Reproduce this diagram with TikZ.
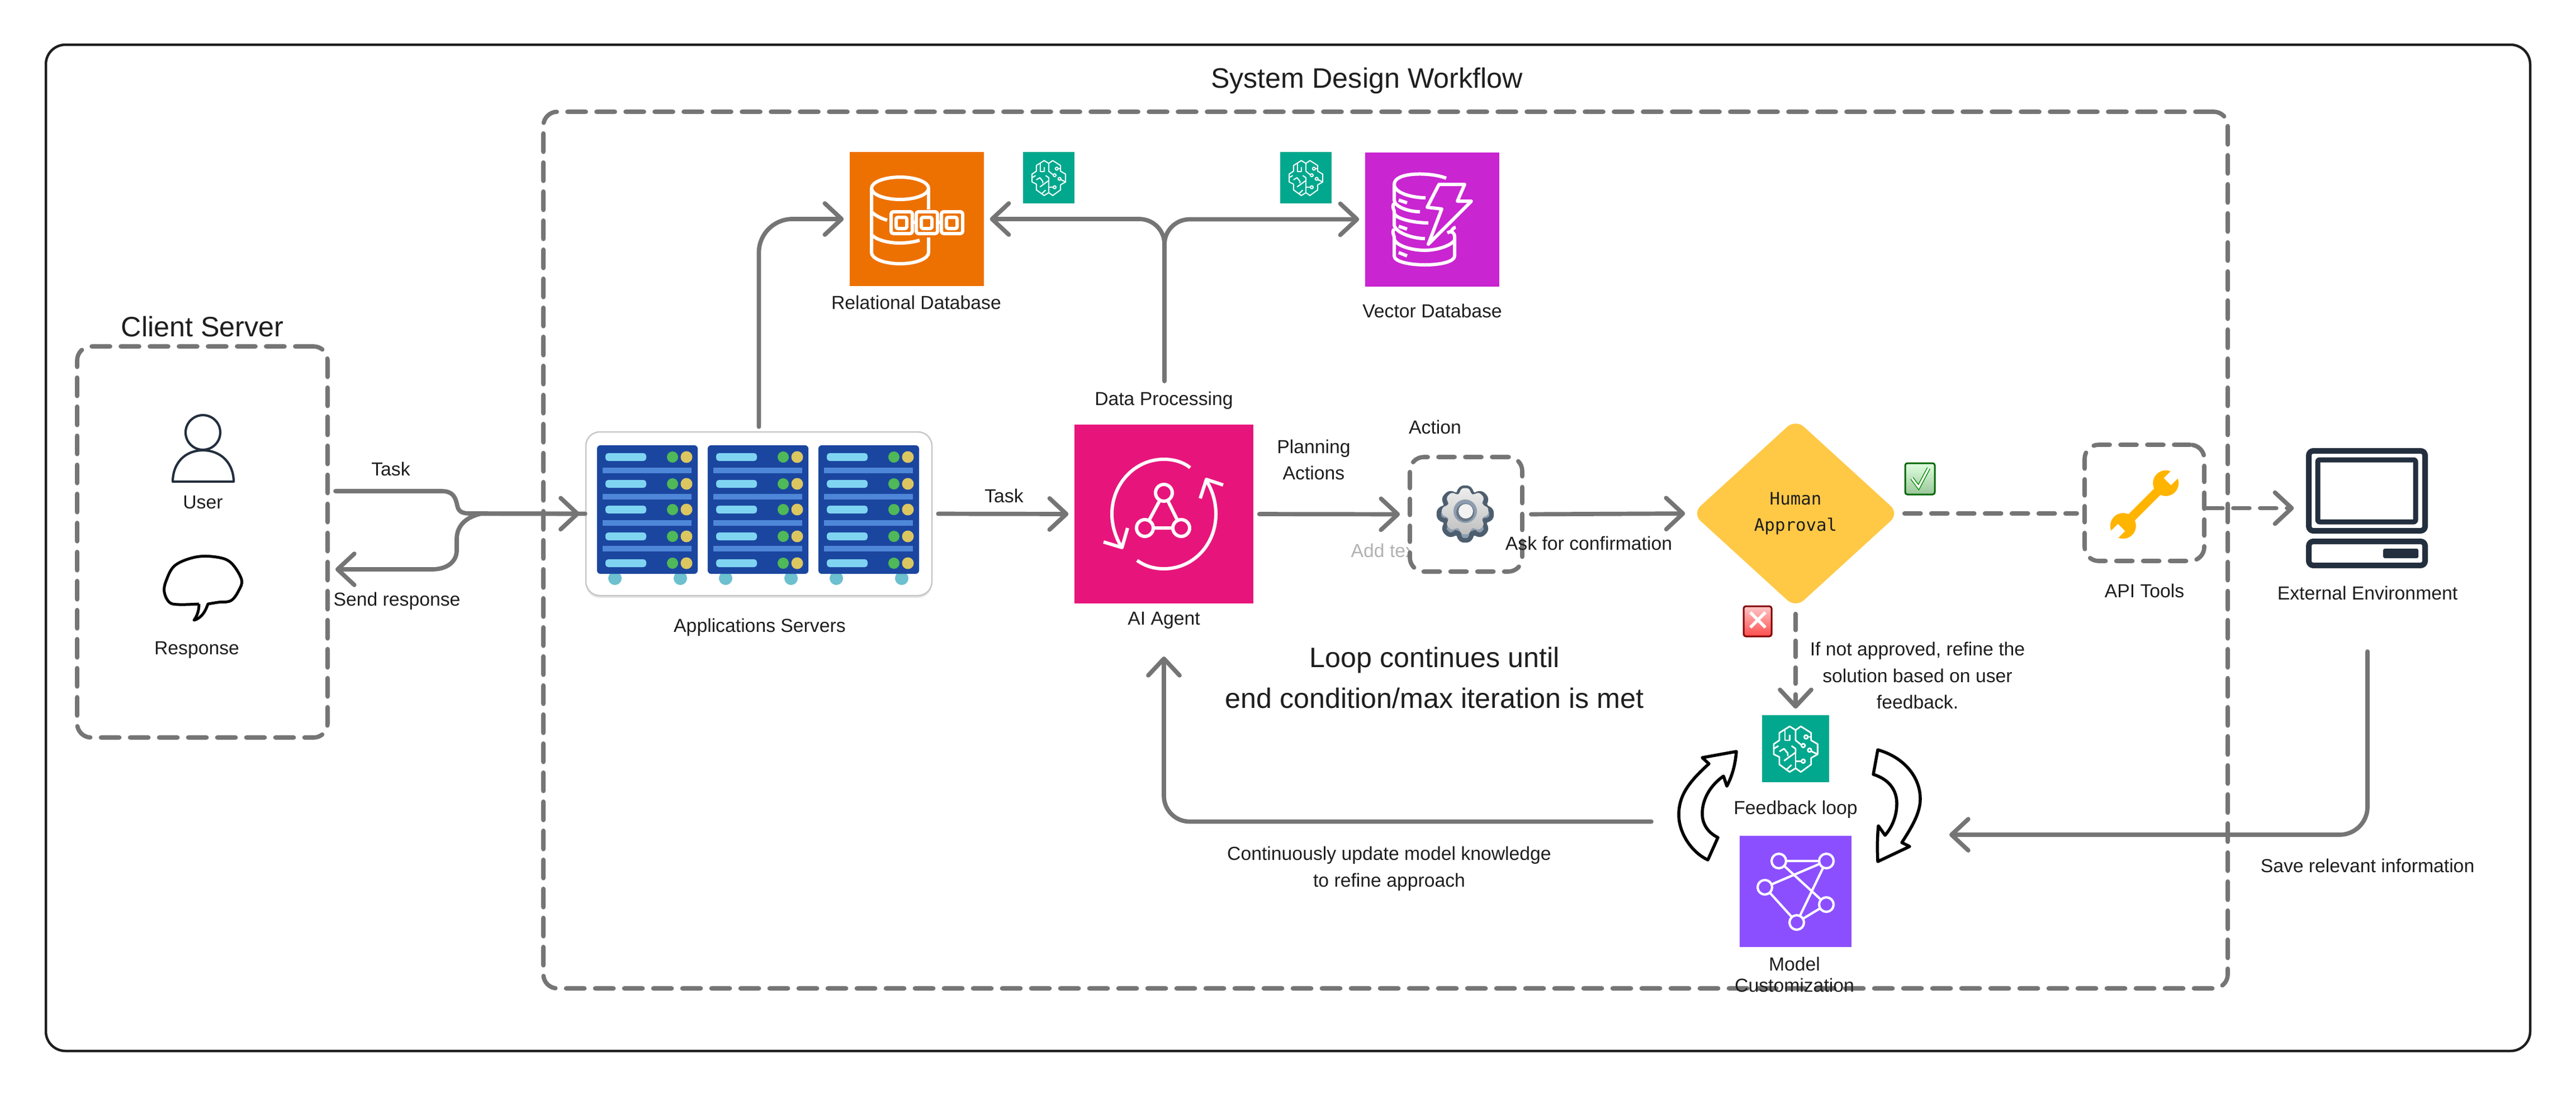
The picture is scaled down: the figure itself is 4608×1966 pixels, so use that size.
\documentclass[tikz,border=0pt]{standalone}
\usepackage{fontspec}
\setmainfont{Liberation Sans}
\newfontfamily\approvalfont{DejaVu Sans Mono}
\usetikzlibrary{arrows.meta,shapes.geometric}

\definecolor{inkdark}{HTML}{1E1E1E}
\definecolor{linegray}{HTML}{757575}
\definecolor{navyicon}{HTML}{232F3E}
\definecolor{awsorange}{HTML}{ED7100}
\definecolor{awsmagenta}{HTML}{C925D1}
\definecolor{awspink}{HTML}{E7157B}
\definecolor{awsteal}{HTML}{01A88D}
\definecolor{awsviolet}{HTML}{8C4FFF}
\definecolor{approvalgold}{HTML}{FFC845}
\definecolor{wrenchgold}{HTML}{FFB400}
\definecolor{rackblue}{HTML}{1B469F}
\definecolor{rackstripe}{HTML}{4F87D8}
\definecolor{rackpill}{HTML}{7FD4F2}
\definecolor{rackgreen}{HTML}{4FB858}
\definecolor{rackyellow}{HTML}{DCC660}
\definecolor{rackfoot}{HTML}{6CC0CF}
\definecolor{gearedge}{HTML}{4D5E6E}
\definecolor{gearshade}{HTML}{8D9DAF}

\newcommand{\gearoutline}{(-17:37) \foreach \a in {0,45,...,315}{ -- ({\a-11}:48) -- ({\a+11}:48) -- ({\a+17}:37) -- ({\a+28}:37)} -- cycle}

\tikzset{
  pics/brainicon/.style={code={
    \begin{scope}[scale=1/3,shift={(-217,-210)},draw=white,line join=round]
      \draw (217,110) -- (185,90) -- (130,125) -- (130,165) -- (100,185) -- (100,240) -- (130,255) -- (130,295) -- (185,335) -- (217,315);
      \draw (217,110) -- (245,90) -- (300,125) -- (300,165) -- (335,185) -- (335,240) -- (300,260) -- (300,295) -- (245,335) -- (217,315);
      \draw (217,110) -- (217,165) -- (248,190);
      \draw (217,230) -- (217,315);
      \draw (217,277) -- (248,277);
      \draw (283,147) -- (300,147);
      \draw (302,224) -- (335,240);
      \draw (160,110) -- (160,165) -- (185,165) -- (185,135);
      \draw (100,210) -- (125,195);
      \draw (130,225) -- (155,210) -- (175,235) -- (175,250);
      \draw (195,195) -- (217,210) -- (217,230) -- (155,275);
      \draw (165,325) -- (195,297);
      \foreach \cx/\cy in {258/193,258/277,273/147,292/218}
        \draw (\cx,\cy) circle[radius=10];
    \end{scope}
  }}
}

\begin{document}
\begin{tikzpicture}[x=0.1mm,y=-0.1mm,>={Straight Barb[length=3mm,width=5.6mm,round]}]
    \tikzstyle{annot}=[font=\fontsize{9.6}{13.6}\selectfont,text=inkdark,align=center,inner sep=0pt]
    \tikzstyle{headline}=[annot,font=\fontsize{14.3}{21}\selectfont]
    \tikzstyle{flow}=[draw=linegray,line width=.77mm,line cap=round,->]
    \tikzstyle{dashflow}=[flow,dash pattern=on 2.9mm off 1.9mm]
    \tikzstyle{dashbox}=[rectangle,draw=linegray,line width=.77mm,line cap=round,rounded corners=2.5mm,dash pattern=on 3.3mm off 1.9mm,inner sep=0pt]
    \tikzstyle{toolbox}=[dashbox,fill=white,dash pattern=on 2.9mm off 1.9mm]
    \tikzstyle{awsbox}=[rectangle,inner sep=0pt]
    \tikzstyle{iconline}=[draw=white,line width=.6mm,line join=round]
    \tikzstyle{darkicon}=[draw=navyicon,line join=round]
    \tikzstyle{loopfill}=[draw=black,fill=white,line width=.55mm,line join=round]
    \useasboundingbox (0,0) rectangle (4608,1966);

    % frames
    \node[rectangle,draw=inkdark,line width=.45mm,rounded corners=3.5mm,minimum width=444.4mm,minimum height=180.1mm,inner sep=0pt] (outerframe) at (2304,980.5) {};
    \node[dashbox,minimum width=301.3mm,minimum height=156.9mm] (workflowbox) at (2478.5,984.5) {};
    \node[dashbox,minimum width=44.8mm,minimum height=70mm] (clientbox) at (362,970) {};
    \node[headline] (workflowtitle) at (2445,144) {System Design Workflow};
    \node[headline] (clienttitle) at (362,585) {Client Server};

    % client icons
    \draw[darkicon,line width=.42mm] (363,774) circle[radius=31];
    \draw[darkicon,line width=.42mm] (309,862) .. controls (309,830) and (330,806) .. (363,806) .. controls (396,806) and (418,830) .. (418,862) -- cycle;
    \draw[black,line width=.5mm,line join=round] plot[smooth,tension=.6] coordinates {(356,1081) (320,1082) (303,1078) (294,1060) (297,1040) (313,1012) (350,997) (387,997) (413,1007) (432,1037) (427,1057) (413,1075) (390,1078) (372,1081)} .. controls (368,1092) and (362,1106) .. (347,1110) .. controls (353,1102) and (356,1092) .. (356,1081);
    \node[annot] (userlabel) at (363,899) {User};
    \node[annot] (responselabel) at (352,1163) {Response};

    % application servers
    \fill[black!10,rounded corners=2.5mm] (1048,776) rectangle (1667,1070);
    \node[rectangle,draw=black!22,fill=white,line width=.25mm,rounded corners=2.5mm,minimum width=61.9mm,minimum height=29.3mm,inner sep=0pt] (appservers) at (1357.5,919.5) {};
    \foreach \rx in {1068,1266,1464}{
        \foreach \fx in {32,149}
            \fill[rackfoot] (\rx+\fx,1035) circle[radius=12];
        \fill[rackblue,rounded corners=.6mm] (\rx,797) rectangle (\rx+180,1027);
        \foreach \sy in {842,889,936,982}
            \fill[rackstripe] (\rx+10,\sy-5) rectangle (\rx+169,\sy+5);
        \foreach \uy in {818,866,912,960,1008}{
            \fill[rackpill,rounded corners=.5mm] (\rx+15,\uy-7) rectangle (\rx+88,\uy+7);
            \fill[rackgreen] (\rx+135,\uy) circle[radius=10];
            \fill[rackyellow] (\rx+160,\uy) circle[radius=10.5];
        }
    }
    \node[annot] (serverslabel) at (1359,1123) {Applications Servers};

    % databases
    \node[awsbox,fill=awsorange,minimum size=24mm] (reldb) at (1640,392) {};
    \draw[iconline] (1610,337) ellipse[x radius=51,y radius=20];
    \draw[iconline] (1559,337) -- (1559,452) .. controls (1559,463) and (1582,472) .. (1610,472) .. controls (1638,472) and (1661,463) .. (1661,452) -- (1661,425);
    \draw[iconline] (1661,337) -- (1661,375);
    \draw[iconline] (1559,379) .. controls (1566,386) and (1576,391) .. (1587,394);
    \draw[iconline] (1559,420) .. controls (1568,430) and (1590,435) .. (1610,435) .. controls (1622,435) and (1635,433) .. (1645,430);
    \foreach \cx in {1594,1639,1684}{
        \draw[iconline,rounded corners=.4mm] (\cx,379) rectangle (\cx+38,418);
        \draw[iconline,rounded corners=.3mm] (\cx+9,389) rectangle (\cx+28,409);
    }
    \draw[iconline] (1632,398) -- (1639,398) (1677,398) -- (1684,398);
    \node[annot] (reldblabel) at (1639,541) {Relational Database};

    \node[awsbox,fill=awsmagenta,minimum size=24mm] (vecdb) at (2562,392.5) {};
    \draw[iconline] (2587,319) .. controls (2560,308) and (2494,307) .. (2494,330) .. controls (2494,345) and (2525,354) .. (2550,354);
    \draw[iconline] (2494,330) -- (2494,358) .. controls (2494,370) and (2520,379) .. (2540,379);
    \draw[iconline] (2494,364) .. controls (2490,368) and (2492,372) .. (2494,378) -- (2494,402) .. controls (2494,415) and (2525,427) .. (2549,427);
    \draw[iconline] (2494,382) .. controls (2498,392) and (2530,399) .. (2555,399);
    \draw[iconline] (2494,410) .. controls (2490,414) and (2492,418) .. (2494,424) -- (2494,458) .. controls (2494,468) and (2520,474) .. (2549,474) .. controls (2578,474) and (2602,468) .. (2602,458) -- (2602,424) .. controls (2602,416) and (2596,412) .. (2589,417);
    \draw[iconline] (2494,428) .. controls (2498,440) and (2525,448) .. (2549,448) .. controls (2570,448) and (2595,440) .. (2602,430);
    \draw[iconline] (2596,414) .. controls (2598,410) and (2601,407) .. (2604,407);
    \draw[iconline] (2502,358) -- (2517,363) (2502,405) -- (2517,410) (2502,452) -- (2517,458);
    \draw[iconline] (2574,330) -- (2620,330) -- (2607,360) -- (2632,360) -- (2555,437) -- (2579,374) -- (2553,371) -- cycle;
    \node[annot] (vecdblabel) at (2562,556) {Vector Database};

    \node[awsbox,fill=awsteal,minimum size=9.2mm] (brainrel) at (1876,318) {};
    \pic[scale=.767,line width=.2mm] at (brainrel) {brainicon};
    \node[awsbox,fill=awsteal,minimum size=9.2mm] (brainvec) at (2336,318) {};
    \pic[scale=.767,line width=.2mm] at (brainvec) {brainicon};

    % agent
    \node[awsbox,fill=awspink,minimum size=32mm] (agent) at (2082,920) {};
    \draw[iconline,line cap=butt] (2129,837) .. controls (2115,826) and (2098,822) .. (2082,822) .. controls (2030,822) and (1989,866) .. (1989,920) .. controls (1989,940) and (1995,960) .. (2006,979);
    \draw[iconline] (1974,970) -- (2007,980) -- (2017,945);
    \draw[iconline,line cap=butt] (2034,1003) .. controls (2048,1013) and (2064,1018) .. (2082,1018) .. controls (2134,1018) and (2175,975) .. (2175,920) .. controls (2175,900) and (2170,880) .. (2158,860);
    \draw[iconline] (2147,892) -- (2158,858) -- (2188,868);
    \draw[iconline] (2082,882) -- (2048,945) -- (2113,945) -- cycle;
    \foreach \cx/\cy in {2082/882,2048/945,2113/945}
        \draw[iconline,fill=awspink] (\cx,\cy) circle[radius=15];
    \node[annot] (agentlabel) at (2082,1110) {AI Agent};
    \node[annot] (datalabel) at (2082,717) {Data Processing};

    % action and approval
    \node[annot,anchor=west,text=black!30] (addtext) at (2416,985) {Add text};
    \node[toolbox,minimum width=20.1mm,minimum height=20.5mm] (actionbox) at (2622.5,920.5) {};
    \begin{scope}[shift={(2621,920)}]
        \draw[draw=gearedge,fill=gearshade,line width=.8mm,line join=round,rounded corners=.7mm] \gearoutline;
        \begin{scope}[yshift=.5mm,scale=.88]
            \shade[top color=black!7,bottom color=black!25,rounded corners=.6mm] \gearoutline;
        \end{scope}
        \fill[gearshade] (0,-5) circle[radius=21];
        \fill[gearedge!85] (0,-3) circle[radius=16];
        \fill[black!5] (1,-5) circle[radius=13];
    \end{scope}
    \node[annot] (actionlabel) at (2567,764) {Action};
    \node[annot] (planlabel) at (2350,823) {Planning\\Actions};
    \node[annot] (asklabel) at (2842,972) {Ask for confirmation};
    \node[diamond,aspect=1.1,fill=approvalgold,rounded corners=2mm,minimum width=37mm,minimum height=33.8mm,inner sep=0pt,font=\approvalfont\fontsize{8.75}{13.4}\selectfont,text=inkdark,align=center] (approval) at (3212,919) {Human~\\Approval};
    \node[rectangle,draw=green!40!black,line width=.3mm,top color=green!12,bottom color=green!45!black!40,rounded corners=.4mm,minimum width=5.3mm,minimum height=5.6mm,inner sep=0pt] (checkmark) at (3434.5,857) {};
    \draw[green!55!black,line width=.65mm] (3420,856) -- (3432,872) -- (3450,838);
    \draw[white,line width=.35mm] (3420,856) -- (3432,872) -- (3450,838);
    \node[rectangle,draw=red!50!black,line width=.3mm,top color=red!22,bottom color=red!70,rounded corners=.4mm,minimum width=5mm,minimum height=5.4mm,inner sep=0pt] (crossmark) at (3144,1112) {};
    \draw[white,line width=.55mm] (3131,1096) -- (3158,1123) (3158,1096) -- (3131,1123);

    % tools and environment
    \node[toolbox,minimum width=21.4mm,minimum height=20.8mm] (apitools) at (3836,900) {};
    \begin{scope}[shift={(3836,903)},rotate=45]
        \fill[wrenchgold] (-52,-8) rectangle (52,8);
        \foreach \hx in {-54,54}
            \fill[wrenchgold] (\hx,0) circle[radius=23];
        \fill[white] (58,-9) rectangle (80,9);
        \fill[white] (-80,-9) rectangle (-58,9);
    \end{scope}
    \node[annot] (toolslabel) at (3836,1057) {API Tools};
    \node[awsbox,minimum width=21.8mm,minimum height=21.5mm] (extenv) at (4234,909.5) {};
    \draw[darkicon,line width=1mm,rounded corners=.8mm] (4130,807) rectangle (4338,950);
    \draw[darkicon,line width=.9mm,rounded corners=.3mm] (4146,823) rectangle (4321,934);
    \draw[darkicon,line width=1mm,rounded corners=.8mm] (4130,969) rectangle (4338,1012);
    \fill[navyicon,rounded corners=.3mm] (4263,982) rectangle (4326,999);
    \node[annot] (extenvlabel) at (4235,1061) {External Environment};

    % feedback loop
    \node[awsbox,fill=awsteal,minimum size=12mm] (brainloop) at (3212,1340) {};
    \pic[line width=.28mm] at (brainloop) {brainicon};
    \node[annot] (looplabel) at (3212,1449) {Feedback loop};
    \node[awsbox,fill=awsviolet,minimum width=20mm,minimum height=19.9mm] (modelbox) at (3212,1595.5) {};
    \draw[iconline,line width=.42mm] (3182,1541) -- (3267,1541) (3157,1588) -- (3267,1541) (3182,1541) -- (3267,1619) (3157,1588) -- (3214,1651) -- (3267,1619) (3214,1651) -- (3267,1541);
    \foreach \cx/\cy in {3182/1541,3267/1541,3157/1588,3267/1619,3214/1651}
        \draw[iconline,line width=.42mm,fill=awsviolet] (\cx,\cy) circle[radius=13];
    \node[annot,font=\fontsize{9.6}{10.8}\selectfont] (modellabel) at (3210,1744) {Model\\Customization};
    \draw[loopfill] (3106,1345) -- (3045,1356) -- (3057,1367) .. controls (3020,1400) and (3003,1425) .. (3003,1458) .. controls (3003,1490) and (3025,1525) .. (3055,1539) -- (3073,1499) .. controls (3055,1490) and (3045,1475) .. (3045,1456) .. controls (3045,1430) and (3060,1405) .. (3083,1389) -- (3089,1407) .. controls (3098,1390) and (3104,1370) .. (3106,1345) -- cycle;
    \draw[loopfill] (3359,1342) -- (3351,1386) .. controls (3380,1395) and (3393,1415) .. (3393,1438) .. controls (3393,1460) and (3385,1480) .. (3372,1495) -- (3360,1478) .. controls (3358,1500) and (3358,1520) .. (3359,1542) -- (3416,1515) -- (3402,1508) .. controls (3420,1480) and (3435,1455) .. (3435,1430) .. controls (3435,1390) and (3405,1355) .. (3359,1342) -- cycle;

    % free ends of the connectors
    \coordinate (taskout) at (600,879);
    \coordinate (responsein) at (600,1019);
    \coordinate (dataout) at (2083,682);
    \coordinate (saveout) at (4235,1166);
    \coordinate (savein) at (3487,1494);
    \coordinate (updateout) at (2954,1470.5);
    \coordinate (agentin) at (2082,1175);

    % connectors
    \draw[flow,shorten >=1mm] (taskout) -- (790,879) .. controls (812,879) and (815,892) .. (818,905) .. controls (820,915) and (826,919) .. (840,919) -- (appservers.west);
    \draw[flow] (appservers.west) -- (860,919.5) .. controls (835,925) and (817,940) .. (817,965) -- (817,985) .. controls (817,1005) and (800,1019) .. (773,1019) -- (responsein);
    \draw[flow,rounded corners=6mm,shorten <=.8mm,shorten >=1mm] (appservers.north) |- (reldb.west);
    \draw[flow,rounded corners=4.5mm,shorten >=1mm] (dataout) |- (reldb.east);
    \draw[flow,rounded corners=4.5mm,shorten >=1mm] (dataout) |- (vecdb.west);
    \draw[flow,shorten <=1mm,shorten >=1mm] (appservers.east) -- (agent.west);
    \draw[flow,shorten <=1mm,shorten >=1.4mm] (agent.east) -- (actionbox.west);
    \draw[flow,shorten <=1.2mm,shorten >=1.2mm] (actionbox.east) -- (approval.west);
    \draw[dashflow,-,shorten <=.9mm,shorten >=1mm] (approval.east) -- (approval.east -| apitools.west);
    \draw[dashflow,shorten >=2.1mm] (apitools.east |- extenv.west) -- (extenv.west);
    \draw[dashflow,shorten <=1mm,shorten >=1.1mm] (approval.south) -- (brainloop.north);
    \draw[flow,rounded corners=5mm] (saveout) |- (savein);
    \draw[flow,rounded corners=4.6mm] (updateout) -| (agentin);

    % remaining labels
    \node[annot] (tasklabel) at (699,839) {Task};
    \node[annot] (sendlabel) at (710,1076) {Send response};
    \node[annot] (tasktwolabel) at (1796,887) {Task};
    \node[headline] (iterlabel) at (2566,1213) {Loop continues until\\end condition/max iteration is met};
    \node[annot] (refinelabel) at (3430,1209) {If not approved, refine the\\solution based on user\\feedback.};
    \node[annot] (updatelabel) at (2485,1555) {Continuously update model knowledge\\to refine approach};
    \node[annot] (savelabel) at (4235,1549) {Save relevant information};
\end{tikzpicture}
\end{document}
